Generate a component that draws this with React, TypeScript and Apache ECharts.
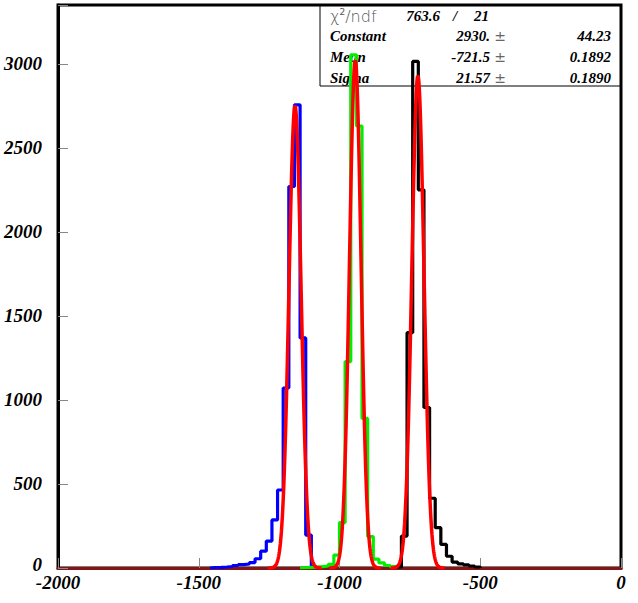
import React, { useEffect, useRef } from "react";
import * as echarts from "echarts";

// ---- data ----
const binWidth = 20;
const xTickLabels = ["-2000", "-1500", "-1000", "-500", "0"];
const yTickLabels = ["0", "500", "1000", "1500", "2000", "2500", "3000"];

const blueStart = -1460;
const blueCounts = [3, 4, 6, 9, 15, 20, 24, 32, 55, 100, 160, 286, 464, 1071, 2270, 2756, 1369, 196, 3];

const greenStart = -1140;
const greenCounts = [3, 4, 5, 8, 12, 22, 77, 270, 1228, 3054, 2630, 890, 187, 53, 30, 15, 8, 4];

const blackStart = -800;
const blackCounts = [5, 190, 1400, 3014, 2250, 955, 415, 240, 140, 70, 35, 25, 18, 12, 6];

// Gaussian fit parameters (blue, green, black)
const fitConstants = [2750, 3020, 2930];
const fitMeans = [-1158, -944, -721.5];
const fitSigmas = [21.5, 20.5, 21.57];

const statsLabels = ["Constant", "Mean", "Sigma"];
const statsValues = ["2930.", "-721.5", "21.57"];
const statsErrors = ["44.23", "0.1892", "0.1890"];
const chi2Value = "763.6";
const ndfValue = "21";

function histPoints(start: number, counts: number[]) {
  const pts: number[][] = [[start, 0]];
  counts.forEach((c, i) => {
    const x0 = start + i * binWidth;
    pts.push([x0, c], [x0 + binWidth, c]);
  });
  pts.push([start + counts.length * binWidth, 0]);
  return pts;
}

function fitPoints(c: number, m: number, s: number) {
  const pts: number[][] = [];
  for (let x = m - 4.5 * s; x <= m + 4.5 * s; x += 0.5) {
    pts.push([x, c * Math.exp(-0.5 * ((x - m) / s) ** 2)]);
  }
  return pts;
}

const serifBI = {
  fontFamily: "Liberation Serif",
  fontWeight: "bold" as const,
  fontStyle: "italic" as const,
};

export default function App() {
  const ref = useRef<HTMLDivElement>(null);
  useEffect(() => {
    if (!ref.current) return;
    const chart = echarts.init(ref.current, null, { renderer: "svg" });
    const histSeries = [
      { pts: histPoints(blueStart, blueCounts), color: "#0000ff" },
      { pts: histPoints(greenStart, greenCounts), color: "#00ee00" },
      { pts: histPoints(blackStart, blackCounts), color: "#000000" },
    ].map((h) => ({
      type: "line",
      data: h.pts,
      symbol: "none",
      lineStyle: { color: h.color, width: 3.2 },
      z: 3,
    }));
    const fitSeries = fitConstants.map((c, i) => ({
      type: "line",
      data: fitPoints(c, fitMeans[i], fitSigmas[i]),
      symbol: "none",
      smooth: false,
      lineStyle: { color: "#ff0000", width: 3.5 },
      z: 4,
    }));

    const rowY = [36, 57, 77.5];
    const graphics: any[] = [
      {
        type: "rect",
        z: 1,
        shape: { x: 320, y: 5, width: 301, height: 81 },
        style: { fill: "none", stroke: "#000", lineWidth: 1 },
      },
      {
        type: "text",
        z: 1,
        x: 330,
        y: 16,
        style: {
          text: "{a|χ}{s|2}{a|/ndf}",
          textVerticalAlign: "middle",
          rich: {
            a: { fontFamily: "DejaVu Sans", fontSize: 16, fill: "#555", fontWeight: "lighter" },
            s: { fontFamily: "DejaVu Sans", fontSize: 9, fill: "#555", verticalAlign: "top", padding: [0, 0, 8, 0] },
          },
        },
      },
      {
        type: "text",
        z: 1,
        x: 440,
        y: 16,
        style: { text: chi2Value, textAlign: "right", textVerticalAlign: "middle", fontSize: 15, fill: "#000", ...serifBI },
      },
      {
        type: "text",
        z: 1,
        x: 455,
        y: 16,
        style: { text: "/", textAlign: "center", textVerticalAlign: "middle", fontSize: 15, fill: "#000", ...serifBI },
      },
      {
        type: "text",
        z: 1,
        x: 489,
        y: 16,
        style: { text: ndfValue, textAlign: "right", textVerticalAlign: "middle", fontSize: 15, fill: "#000", ...serifBI },
      },
    ];
    statsLabels.forEach((lab, i) => {
      graphics.push(
        {
          type: "text",
          z: 1,
          x: 330,
          y: rowY[i],
          style: { text: lab, textVerticalAlign: "middle", fontSize: 15, fill: "#000", ...serifBI },
        },
        {
          type: "text",
          z: 1,
          x: 490,
          y: rowY[i],
          style: { text: statsValues[i], textAlign: "right", textVerticalAlign: "middle", fontSize: 15, fill: "#000", ...serifBI },
        },
        {
          type: "text",
          z: 1,
          x: 500,
          y: rowY[i],
          style: { text: "±", textAlign: "center", textVerticalAlign: "middle", fontSize: 14, fill: "#666", fontFamily: "DejaVu Sans" },
        },
        {
          type: "text",
          z: 1,
          x: 611,
          y: rowY[i],
          style: { text: statsErrors[i], textAlign: "right", textVerticalAlign: "middle", fontSize: 15, fill: "#000", ...serifBI },
        }
      );
    });

    chart.setOption({
      animation: false,
      grid: {
        left: 58,
        right: 17,
        top: 5,
        bottom: 35,
        show: true,
        borderColor: "#000",
        borderWidth: 3,
        backgroundColor: "transparent",
        outerBoundsMode: "none",
      },
      xAxis: {
        type: "value",
        min: -2000,
        max: 0,
        interval: 500,
        splitLine: { show: false },
        axisLine: { show: true, onZero: false, lineStyle: { color: "#861414", width: 3 } },
        axisTick: { show: true, inside: true, length: 10, lineStyle: { color: "#888", width: 1 } },
        axisLabel: {
          margin: 5,
          fontSize: 19,
          color: "#000",
          ...serifBI,
          formatter: (v: number) => {
            const idx = Math.round((v + 2000) / 500);
            return Math.abs(v + 2000 - idx * 500) < 1e-6 ? xTickLabels[idx] : "";
          },
        },
      },
      yAxis: {
        type: "value",
        min: 0,
        max: 3350,
        interval: 500,
        splitLine: { show: false },
        axisLine: { show: true, onZero: false, lineStyle: { color: "#000", width: 3 } },
        axisTick: { show: true, inside: true, length: 10, lineStyle: { color: "#888", width: 1 } },
        axisLabel: {
          margin: 16,
          fontSize: 19,
          color: "#000",
          ...serifBI,
          rich: {
            z: { fontSize: 19, color: "#000", ...serifBI, padding: [0, 0, 8, 0] },
          },
          formatter: (v: number) => {
            const idx = Math.round(v / 500);
            if (!(Math.abs(v - idx * 500) < 1e-6 && idx < yTickLabels.length)) return "";
            return idx === 0 ? "{z|" + yTickLabels[0] + "}" : yTickLabels[idx];
          },
        },
      },
      graphic: graphics,
      series: [...histSeries, ...fitSeries],
    });
    return () => chart.dispose();
  }, []);
  return (
    <div
      ref={ref}
      style={{ position: "fixed", left: 0, top: 0, width: 638, height: 603, background: "#fff" }}
    />
  );
}
